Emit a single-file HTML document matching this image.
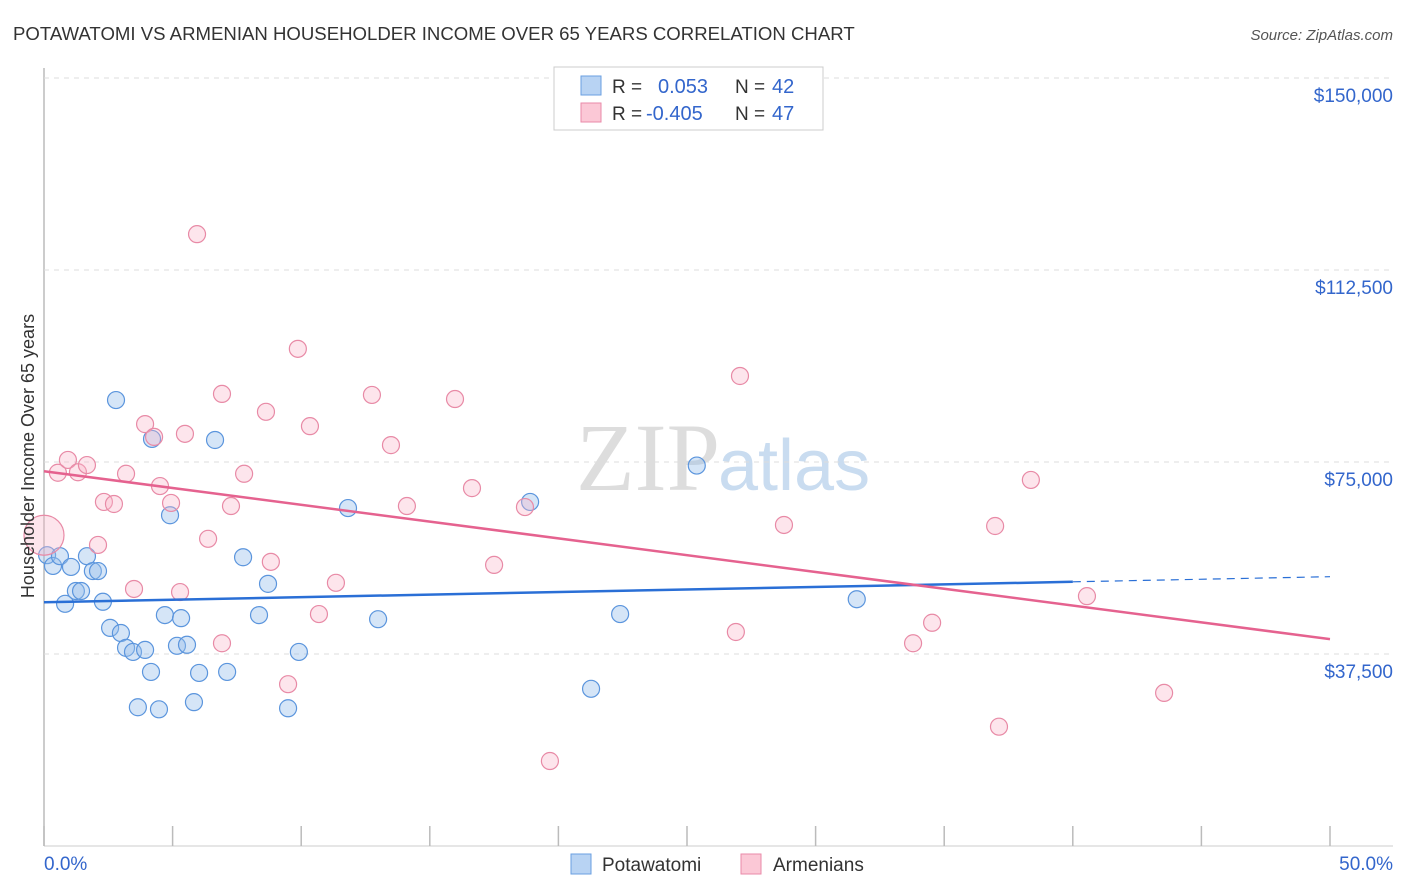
<!DOCTYPE html>
<html><head><meta charset="utf-8"><style>
body{margin:0;background:#fff;font-family:"Liberation Sans",sans-serif}
svg{display:block}
</style></head><body>
<svg id="c" width="1406" height="892">
<text x="13" y="40" font-size="18.6" fill="#333">POTAWATOMI VS ARMENIAN HOUSEHOLDER INCOME OVER 65 YEARS CORRELATION CHART</text>
<text x="1393" y="40" font-size="15" fill="#555" font-style="italic" text-anchor="end">Source: ZipAtlas.com</text>
<text x="720" y="490" font-size="96" fill="#ddd" text-anchor="end" font-family="Liberation Serif">ZIP</text>
<text x="718" y="490" font-size="72" fill="#c9dcf0">atlas</text>
<g id="grid"></g><g id="pts"></g><g id="lines"></g>
<text transform="translate(34,456) rotate(-90)" font-size="18" fill="#333" text-anchor="middle">Householder Income Over 65 years</text>
<g>
<rect x="554" y="67" width="269" height="63" fill="#fff" stroke="#ccc"/>
<rect x="581" y="76" width="20" height="19" fill="#b8d3f3" stroke="#6a9fe0"/>
<rect x="581" y="103" width="20" height="19" fill="#fbc8d6" stroke="#ea8aa8"/>
<text x="612" y="93" font-size="19" fill="#333">R = </text><text x="658" y="93" font-size="20" fill="#3366cc">0.053</text>
<text x="735" y="93" font-size="19" fill="#333">N = </text><text x="772" y="93" font-size="20" fill="#3366cc">42</text>
<text x="612" y="120" font-size="19" fill="#333">R = </text><text x="646" y="120" font-size="20" fill="#3366cc">-0.405</text>
<text x="735" y="120" font-size="19" fill="#333">N = </text><text x="772" y="120" font-size="20" fill="#3366cc">47</text>
</g>
<g>
<rect x="571" y="854" width="20" height="20" fill="#b8d3f3" stroke="#6a9fe0"/>
<text x="602" y="871" font-size="19" fill="#333">Potawatomi</text>
<rect x="741" y="854" width="20" height="20" fill="#fbc8d6" stroke="#ea8aa8"/>
<text x="773" y="871" font-size="19" fill="#333">Armenians</text>
</g>
</svg>
<script>
const yTicks=[37500,75000,112500,150000];
const yTickLabels=["$37,500","$75,000","$112,500","$150,000"];
const xTickLabels=["0.0%","50.0%"];
const blueX=[0.12,0.35,0.62,0.82,1.05,1.24,1.44,1.67,1.9,2.1,2.29,2.57,2.8,2.99,3.19,3.46,3.65,3.93,4.2,4.16,4.47,4.7,4.9,5.17,5.33,5.56,5.83,6.03,6.65,7.12,7.74,8.36,8.71,9.49,9.91,11.82,12.99,18.9,21.27,22.4,25.38,31.6];
const blueY=[56800,54700,56600,47300,54500,49800,49800,56600,53700,53700,47700,42600,87100,41600,38700,37900,27100,38300,79500,34000,26700,45100,64600,39100,44500,39300,28100,33800,79300,34000,56400,45100,51200,26900,37900,66000,44300,67200,30700,45300,74300,48200];
const pinkX=[0,0.54,0.93,1.32,1.67,2.1,2.33,2.72,3.19,3.5,3.93,4.28,4.51,4.94,5.29,5.48,5.95,6.38,6.92,6.92,7.27,7.78,8.63,8.82,9.49,9.87,10.34,10.69,11.35,12.75,13.49,14.11,15.98,16.64,17.5,18.7,19.67,26.9,27.06,28.77,33.79,34.53,36.98,37.13,38.37,40.55,43.55];
const pinkY=[60700,72900,75400,73000,74400,58800,67200,66800,72700,50200,82400,79900,70300,67000,49600,80500,119500,60000,88300,39600,66400,72700,84800,55500,31600,97100,82000,45300,51400,88100,78300,66400,87300,69900,54900,66200,16600,41800,91800,62700,39600,43600,62500,23300,71500,48800,29900];
const NS="http://www.w3.org/2000/svg";
const X0=44,X1=1330,Y0=846,YPER=192/37500;
const sx=v=>X0+(v/50)*(X1-X0), sy=v=>Y0-v*YPER;
function mk(t,a,p){const e=document.createElementNS(NS,t);for(const k in a)e.setAttribute(k,a[k]);p.appendChild(e);return e;}
const grid=document.getElementById('grid');
mk('line',{x1:X0,y1:68,x2:X0,y2:Y0,stroke:'#bbb','stroke-width':1.5},grid);
mk('line',{x1:X0,y1:Y0,x2:1393,y2:Y0,stroke:'#ccc'},grid);
yTicks.forEach((t,i)=>{
  const g=mk('line',{x1:X0,y1:sy(t),x2:1393,y2:sy(t),stroke:'#ddd','stroke-dasharray':'5,5'},grid);
  
  
  const tx=mk('text',{x:1393,y:sy(t)+24,'font-size':19,fill:'#3366cc','text-anchor':'end'},grid);
  tx.textContent=yTickLabels[i];
  
  
});
for(let i=0;i<=10;i++){
  const x=sx(i*5);
  const l=mk('line',{x1:x,y1:826,x2:x,y2:Y0,stroke:'#bbb','stroke-width':1.5},grid);
  
  
}
[[0,'start',44],[1,'end',1393]].forEach(([i,a,x])=>{
  const t=mk('text',{x:x,y:870,'font-size':19,fill:'#3366cc','text-anchor':a},grid);
  t.textContent=xTickLabels[i];
  
  
});
const pts=document.getElementById('pts');
blueX.forEach((v,i)=>{
  const c=mk('circle',{cx:sx(v),cy:sy(blueY[i]),r:8.5,fill:'rgba(150,190,235,0.4)',stroke:'#5b95dd','stroke-width':1.2},pts);
  
  
});
pinkX.forEach((v,i)=>{
  const c=mk('circle',{cx:sx(v),cy:sy(pinkY[i]),r:i===0?20:8.5,fill:'rgba(248,180,200,0.35)',stroke:'#e88aa6','stroke-width':1.2},pts);
  
  
});
const lines=document.getElementById('lines');
const blueTrend=[47600,51600,52600];
const pinkTrend=[73200,40400];
let l=mk('line',{x1:sx(0),y1:sy(blueTrend[0]),x2:sx(40),y2:sy(blueTrend[1]),stroke:'#2a6fd6','stroke-width':2.5},lines);


l=mk('line',{x1:sx(40),y1:sy(blueTrend[1]),x2:sx(50),y2:sy(blueTrend[2]),stroke:'#2a6fd6','stroke-width':1.2,'stroke-dasharray':'8,6'},lines);


l=mk('line',{x1:sx(0),y1:sy(pinkTrend[0]),x2:sx(50),y2:sy(pinkTrend[1]),stroke:'#e5628f','stroke-width':2.5},lines);


</script>
</body></html>
